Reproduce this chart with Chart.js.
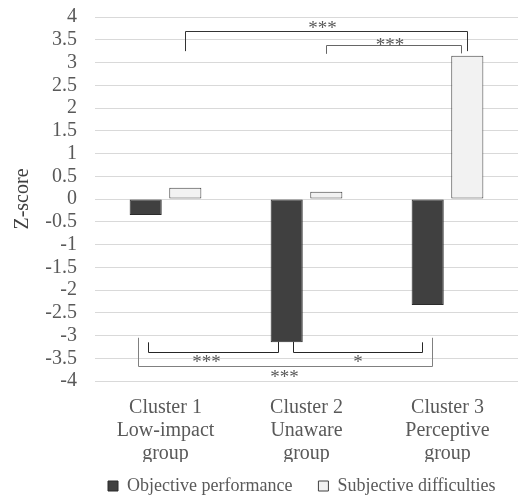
<!DOCTYPE html>
<html>
<head>
<meta charset="utf-8">
<script src="https://cdn.jsdelivr.net/npm/chart.js@4.4.0/dist/chart.umd.min.js"></script>
<style>
  body { margin: 0; background: #fff; }
  #wrap { width: 518px; height: 496px; }
</style>
</head>
<body>
<div id="wrap"><canvas id="myChart" width="518" height="496"></canvas></div>
<script>
// data
const clusters = [
    ['Cluster 1', 'Low-impact', 'group'],
    ['Cluster 2', 'Unaware', 'group'],
    ['Cluster 3', 'Perceptive', 'group']
];
const seriesNames = ['Objective performance', 'Subjective difficulties'];
const objective = [-0.35, -3.15, -2.33];
const subjective = [0.25, 0.16, 3.15];
const yMin = -4, yMax = 4, yStep = 0.5;

// significance brackets: [dataset, index, px nudge] for each leg, levels in z units
const brackets = [
    { from: [1, 0, 0], to: [1, 2, 0], level: 3.7, ends: [3.25, 3.25], text: '***', textY: 3.83, dx: -4, color: '#333333' },
    { from: [1, 1, 0], to: [1, 2, -6], level: 3.375, ends: [3.19, 3.2], text: '***', textY: 3.46, dx: -4, color: '#666666' },
    { from: [0, 0, 2], to: [0, 1, -9], level: -3.36, ends: [-3.15, -3.14], text: '***', textY: -3.51, dx: -7, color: '#262626' },
    { from: [0, 1, 6], to: [0, 2, -6], level: -3.36, ends: [-3.14, -3.15], text: '*', textY: -3.51, dx: 0, color: '#262626' },
    { from: [0, 0, -8], to: [0, 2, 4], level: -3.67, ends: [-3.05, -3.05], text: '***', textY: -3.84, dx: -1, color: '#808080' }
];

const serif = '"Liberation Serif", "Times New Roman", serif';
const legendGap = 26;

const bracketPlugin = {
    id: 'brackets',
    afterDatasetsDraw(chart) {
        const c = chart.ctx;
        const y = chart.scales.y;
        const px = (leg) => Math.round(chart.getDatasetMeta(leg[0]).data[leg[1]].x + leg[2]) + 0.5;
        c.save();
        c.lineWidth = 1;
        brackets.forEach(b => {
            const x1 = px(b.from);
            const x2 = px(b.to);
            const yl = Math.round(y.getPixelForValue(b.level)) + 0.5;
            c.strokeStyle = b.color;
            c.beginPath();
            c.moveTo(x1, y.getPixelForValue(b.ends[0]));
            c.lineTo(x1, yl);
            c.lineTo(x2, yl);
            c.lineTo(x2, y.getPixelForValue(b.ends[1]));
            c.stroke();

            c.font = '19px ' + serif;
            c.fillStyle = '#595959';
            c.textAlign = 'center';
            c.textBaseline = 'alphabetic';
            const m = c.measureText(b.text);
            const ty = y.getPixelForValue(b.textY) + (m.actualBoundingBoxAscent - m.actualBoundingBoxDescent) / 2;
            c.fillText(b.text, (x1 + x2) / 2 + b.dx, ty);
        });
        c.restore();
    }
};

// slide the legend row so it sits under the plot like the original
const legendNudge = {
    id: 'legendNudge',
    beforeDraw(chart) {
        const lg = chart.legend;
        if (!lg || lg._nudged) return;
        const dx = 108 - (lg.right - lg.lineWidths[0]);
        const dy = -(legendGap - 15);
        lg.left += dx;
        lg.right += dx;
        lg.top += dy;
        lg.bottom += dy;
        lg._nudged = true;
    }
};

const ctx = document.getElementById('myChart').getContext('2d');
const myChart = new Chart(ctx, {
    type: 'bar',
    data: {
        labels: clusters,
        datasets: [{
            label: seriesNames[0],
            data: objective,
            backgroundColor: '#404040',
            borderColor: '#2b2b2b',
            borderWidth: 1,
            borderSkipped: false,
            categoryPercentage: 0.562,
            barPercentage: 0.81
        }, {
            label: seriesNames[1],
            data: subjective,
            backgroundColor: '#f2f2f2',
            borderColor: '#404040',
            borderWidth: 1,
            borderSkipped: false,
            categoryPercentage: 0.562,
            barPercentage: 0.81
        }]
    },
    options: {
        responsive: false,
        animation: false,
        layout: { padding: { top: 17, right: -4, bottom: -9 - (legendGap - 15), left: 0 } },
        plugins: {
            legend: {
                position: 'bottom',
                align: 'end',
                labels: {
                    boxWidth: 10,
                    boxHeight: 10,
                    padding: legendGap,
                    color: '#595959',
                    font: { family: serif, size: 18 }
                }
            },
            tooltip: { enabled: false }
        },
        scales: {
            x: {
                grid: { display: false },
                border: { display: false },
                ticks: {
                    color: '#595959',
                    font: { family: serif, size: 20, lineHeight: 1.15 },
                    padding: 7,
                    maxRotation: 0,
                    autoSkip: false
                },
                afterFit: (s) => { s.height = 81; }
            },
            y: {
                min: yMin,
                max: yMax,
                ticks: {
                    stepSize: yStep,
                    autoSkip: false,
                    color: '#595959',
                    font: { family: serif, size: 20 },
                    padding: 18,
                    callback: (v) => String(v)
                },
                grid: { color: '#d9d9d9', drawTicks: false },
                border: { display: false },
                title: {
                    display: true,
                    text: 'Z-score',
                    color: '#404040',
                    font: { family: serif, size: 20 },
                    padding: { top: 11, bottom: 0 }
                },
                afterFit: (s) => {
                    s.width = 95;
                    s.paddingTop = 0;
                    s.paddingBottom = 0;
                }
            }
        }
    },
    plugins: [bracketPlugin, legendNudge]
});
</script>
</body>
</html>
